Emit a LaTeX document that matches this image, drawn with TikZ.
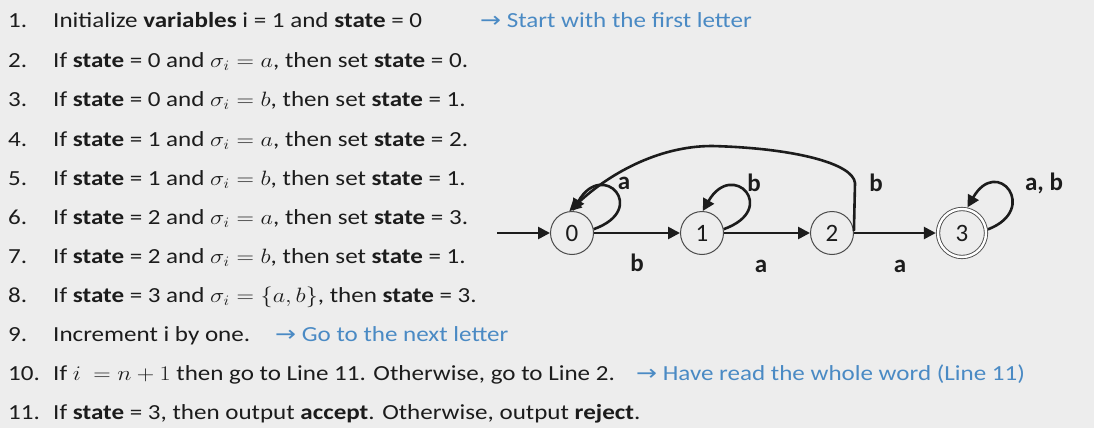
\documentclass[tikz,border=0pt]{standalone}
\usepackage{fontspec}
\usepackage{graphicx}
\setmainfont{Carlito}
\newfontfamily\symfont{DejaVu Sans}
\usetikzlibrary{arrows.meta}
\definecolor{bg}{RGB}{237,237,237}
\definecolor{note}{RGB}{74,138,196}
\definecolor{ink}{RGB}{28,28,28}
\newcommand{\hstretch}[1]{\scalebox{1.165}[1]{#1}}
\begin{document}
\begin{tikzpicture}[x=1pt,y=-1pt,
  txt/.style={anchor=base west, inner sep=0pt, font=\fontsize{21.5}{26}\selectfont, text=ink},
  notetxt/.style={txt, text=note},
  stnode/.style={circle, draw=black!70, line width=1pt, minimum size=43pt, inner sep=0pt, font=\fontsize{25}{30}\selectfont, text=ink},
  accnode/.style={stnode, double, double distance=2.4pt, line width=0.9pt, minimum size=48pt, outer sep=2.2pt},
  edge/.style={line width=2.6pt, draw=ink, -{Triangle[length=12pt,width=12pt]}},
  lbl/.style={font=\fontsize{25}{30}\selectfont\bfseries, inner sep=0pt, text=ink}
]
\fill[bg] (0,0) rectangle (1094,428);
\useasboundingbox (0,0) rectangle (1094,428);

% --- algorithm text ---
\node[txt] (n1) at (8,28) {\hstretch{1.}};
\node[txt] (t1) at (53,28) {\hstretch{Initialize \textbf{variables} i = 1 and \textbf{state} = 0}};
\node[notetxt] (c1) at (480,28) {\hstretch{{\symfont →} Start with the first letter}};
\node[txt] (n2) at (8,67) {\hstretch{2.}};
\node[txt] (t2) at (53,67) {\hstretch{If \textbf{state} = 0 and $\sigma_i = a$, then set \textbf{state} = 0.}};
\node[txt] (n3) at (8,106) {\hstretch{3.}};
\node[txt] (t3) at (53,106) {\hstretch{If \textbf{state} = 0 and $\sigma_i = b$, then set \textbf{state} = 1.}};
\node[txt] (n4) at (8,146) {\hstretch{4.}};
\node[txt] (t4) at (53,146) {\hstretch{If \textbf{state} = 1 and $\sigma_i = a$, then set \textbf{state} = 2.}};
\node[txt] (n5) at (8,185) {\hstretch{5.}};
\node[txt] (t5) at (53,185) {\hstretch{If \textbf{state} = 1 and $\sigma_i = b$, then set \textbf{state} = 1.}};
\node[txt] (n6) at (8,224) {\hstretch{6.}};
\node[txt] (t6) at (53,224) {\hstretch{If \textbf{state} = 2 and $\sigma_i = a$, then set \textbf{state} = 3.}};
\node[txt] (n7) at (8,263) {\hstretch{7.}};
\node[txt] (t7) at (53,263) {\hstretch{If \textbf{state} = 2 and $\sigma_i = b$, then set \textbf{state} = 1.}};
\node[txt] (n8) at (8,302) {\hstretch{8.}};
\node[txt] (t8) at (53,302) {\hstretch{If \textbf{state} = 3 and $\sigma_i = \{a, b\}$, then \textbf{state} = 3.}};
\node[txt] (n9) at (8,341) {\hstretch{9.}};
\node[txt] (t9) at (53,341) {\hstretch{Increment i by one.}};
\node[notetxt] (c9) at (275,341) {\hstretch{{\symfont →} Go to the next letter}};
\node[txt] (n10) at (8,380) {\hstretch{10.}};
\node[txt] (t10) at (53,380) {\hstretch{If $i\ = n+1$ then go to Line 11. Otherwise, go to Line 2.}};
\node[notetxt] (c10) at (636,380) {\hstretch{{\symfont →} Have read the whole word (Line 11)}};
\node[txt] (n11) at (8,419) {\hstretch{11.}};
\node[txt] (t11) at (53,419) {\hstretch{If \textbf{state} = 3, then output \textbf{accept}. Otherwise, output \textbf{reject}.}};

% --- automaton ---
\node[stnode] (s0) at (572,233) {0};
\node[stnode] (s1) at (702,233) {1};
\node[stnode] (s2) at (832,233) {2};
\node[accnode] (s3) at (962,233) {3};
\coordinate (init) at (497,233);
\coordinate (k) at (855,183);
\coordinate (top) at (712,146);

\draw[edge] (init) -- (s0);
\draw[edge] (s0) -- (s1);
\draw[edge] (s1) -- (s2);
\draw[edge] (s2) -- (s3);

\draw[edge] (s0.10) .. controls +(56,-20) and +(30,-52) .. (s0.88);
\draw[edge] (s1.10) .. controls +(56,-20) and +(30,-52) .. (s1.88);
\draw[edge] (s3.8) .. controls +(52,-20) and +(30,-52) .. (s3.78);

\draw[edge] (s2.5) -- (k) .. controls +(-2,-20) and +(80,2) .. (top)
  .. controls +(-55,0) and +(38,-36) .. (s0.97);

\node[lbl] (la0) at (624,183) {a};
\node[lbl] (lb1) at (754,183) {b};
\node[lbl] (lb2) at (876,183) {b};
\node[lbl] (lab3) at (1044,183) {a, b};
\node[lbl] (lb01) at (637,263) {b};
\node[lbl] (la12) at (761,266) {a};
\node[lbl] (la23) at (900,266) {a};
\end{tikzpicture}
\end{document}
